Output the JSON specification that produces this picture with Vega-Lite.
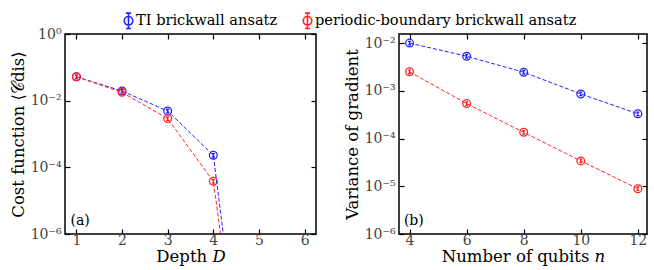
{
  "$schema": "https://vega.github.io/schema/vega-lite/v6.json",
  "background": "white",
  "padding": {"left": 9, "top": 11, "right": 5, "bottom": 0},
  "config": {
    "font": "DejaVu Serif",
    "view": {"stroke": "black", "strokeWidth": 1.5},
    "axis": {
      "domain": false, "grid": false, "ticks": true, "tickColor": "black", "tickSize": -5, "tickWidth": 1.2,
      "labelFont": "DejaVu Serif", "labelFontSize": 14, "labelColor": "#444", "labelPadding": 4,
      "titleFont": "DejaVu Serif", "titleFontSize": 16.5, "titleFontWeight": "normal", "titleColor": "black"
    },
    "axisY": {"labelPadding": 9},
    "legend": {
      "orient": "none", "legendX": 54, "legendY": -23, "direction": "horizontal", "title": null,
      "labelFont": "DejaVu Serif", "labelFontSize": 14.6, "labelColor": "black", "labelOffset": -2, "labelLimit": 500,
      "columnPadding": 20, "symbolSize": 290, "symbolStrokeWidth": 1.6, "symbolFillColor": "transparent"
    },
    "text": {"font": "DejaVu Serif"},
    "concat": {"spacing": 25}
  },
  "datasets": {
    "left": [
      {"D": 1, "v": 0.052, "series": "TI brickwall ansatz"},
      {"D": 2, "v": 0.0195, "series": "TI brickwall ansatz"},
      {"D": 3, "v": 0.0049, "series": "TI brickwall ansatz"},
      {"D": 4, "v": 0.00023, "series": "TI brickwall ansatz"},
      {"D": 5, "v": 3.7e-15, "series": "TI brickwall ansatz"},
      {"D": 6, "v": 3.7e-15, "series": "TI brickwall ansatz"},
      {"D": 1, "v": 0.052, "series": "periodic-boundary brickwall ansatz"},
      {"D": 2, "v": 0.0178, "series": "periodic-boundary brickwall ansatz"},
      {"D": 3, "v": 0.0029, "series": "periodic-boundary brickwall ansatz"},
      {"D": 4, "v": 0.000038, "series": "periodic-boundary brickwall ansatz"},
      {"D": 5, "v": 4.7e-15, "series": "periodic-boundary brickwall ansatz"},
      {"D": 6, "v": 4.7e-15, "series": "periodic-boundary brickwall ansatz"}
    ],
    "right": [
      {"n": 4, "v": 0.0100, "series": "TI brickwall ansatz"},
      {"n": 6, "v": 0.0053, "series": "TI brickwall ansatz"},
      {"n": 8, "v": 0.00245, "series": "TI brickwall ansatz"},
      {"n": 10, "v": 0.00086, "series": "TI brickwall ansatz"},
      {"n": 12, "v": 0.00033, "series": "TI brickwall ansatz"},
      {"n": 4, "v": 0.0025, "series": "periodic-boundary brickwall ansatz"},
      {"n": 6, "v": 0.00054, "series": "periodic-boundary brickwall ansatz"},
      {"n": 8, "v": 0.000135, "series": "periodic-boundary brickwall ansatz"},
      {"n": 10, "v": 0.000034, "series": "periodic-boundary brickwall ansatz"},
      {"n": 12, "v": 0.0000089, "series": "periodic-boundary brickwall ansatz"}
    ]
  },
  "hconcat": [
    {
      "width": 251, "height": 200,
      "data": {"name": "left"},
      "layer": [
        {
          "mark": {"type": "point", "filled": false, "size": 60, "strokeWidth": 1.3, "opacity": 1, "clip": true,
                   "shape": "M1,0A1,1,0,1,1,-1,0A1,1,0,1,1,1,0M-0.4,-0.45L0.4,-0.45M-0.4,0.45L0.4,0.45M0,-0.45L0,0.45"},
          "encoding": {
            "x": {"field": "D", "type": "quantitative", "scale": {"domain": [0.75, 6.25], "nice": false, "zero": false},
                  "axis": {"orient": "top", "labels": false, "title": null, "values": [1, 2, 3, 4, 5, 6]}},
            "y": {"field": "v", "type": "quantitative", "scale": {"type": "log", "domain": [1e-6, 1], "nice": false},
                  "axis": {"orient": "right", "labels": false, "title": null, "values": [1e-6, 1e-4, 1e-2, 1]}},
            "color": {"field": "series", "type": "nominal",
                      "scale": {"domain": ["TI brickwall ansatz", "periodic-boundary brickwall ansatz"], "range": ["#2323ff", "#ff2424"]},
                      "legend": {"symbolType": "M0,-0.9L0,0.9M-0.3,-0.9L0.3,-0.9M-0.3,0.9L0.3,0.9M0.5,0A0.5,0.5,0,1,1,-0.5,0A0.5,0.5,0,1,1,0.5,0Z",
                                 "symbolFillColor": "transparent", "symbolStrokeWidth": 1.6}}
          }
        },
        {
          "mark": {"type": "line", "strokeDash": [4, 2], "strokeWidth": 1, "clip": true},
          "encoding": {
            "x": {"field": "D", "type": "quantitative", "scale": {"domain": [0.75, 6.25], "nice": false, "zero": false},
                  "axis": {"title": "Depth 𝐷", "values": [1, 2, 3, 4, 5, 6], "titlePadding": 1}},
            "y": {"field": "v", "type": "quantitative", "scale": {"type": "log", "domain": [1e-6, 1], "nice": false},
                  "axis": {"title": "Cost function ⟨𝒞dis⟩", "values": [1e-6, 1e-4, 1e-2, 1], "titlePadding": 4,
                           "labelExpr": "'10' + (round(log(datum.value)/LN10) < 0 ? '⁻' : '') + substring('⁰¹²³⁴⁵⁶⁷⁸⁹', abs(round(log(datum.value)/LN10)), abs(round(log(datum.value)/LN10)) + 1)"}},
            "color": {"field": "series", "type": "nominal"}
          }
        },
        {
          "data": {"values": [{"px": 1.08, "py": 2.5e-6, "t": "(a)"}]},
          "mark": {"type": "text", "fontSize": 14, "color": "black"},
          "encoding": {
            "x": {"field": "px", "type": "quantitative", "scale": {"domain": [0.75, 6.25], "nice": false, "zero": false}, "axis": null},
            "y": {"field": "py", "type": "quantitative", "scale": {"type": "log", "domain": [1e-6, 1], "nice": false}, "axis": null},
            "text": {"field": "t"}
          }
        }
      ],
      "resolve": {"axis": {"x": "independent", "y": "independent"}}
    },
    {
      "width": 248, "height": 200,
      "data": {"name": "right"},
      "layer": [
        {
          "mark": {"type": "point", "filled": false, "size": 60, "strokeWidth": 1.3, "opacity": 1, "clip": true,
                   "shape": "M1,0A1,1,0,1,1,-1,0A1,1,0,1,1,1,0M-0.4,-0.45L0.4,-0.45M-0.4,0.45L0.4,0.45M0,-0.45L0,0.45"},
          "encoding": {
            "x": {"field": "n", "type": "quantitative", "scale": {"domain": [3.63, 12.32], "nice": false, "zero": false},
                  "axis": {"orient": "top", "labels": false, "title": null, "values": [4, 6, 8, 10, 12]}},
            "y": {"field": "v", "type": "quantitative", "scale": {"type": "log", "domain": [1e-6, 0.0155], "nice": false},
                  "axis": {"orient": "right", "labels": false, "title": null, "values": [1e-6, 1e-5, 1e-4, 1e-3, 1e-2]}},
            "color": {"field": "series", "type": "nominal"}
          }
        },
        {
          "mark": {"type": "line", "strokeDash": [4, 2], "strokeWidth": 1, "clip": true},
          "encoding": {
            "x": {"field": "n", "type": "quantitative", "scale": {"domain": [3.63, 12.32], "nice": false, "zero": false},
                  "axis": {"title": "Number of qubits 𝑛", "values": [4, 6, 8, 10, 12], "titlePadding": 1}},
            "y": {"field": "v", "type": "quantitative", "scale": {"type": "log", "domain": [1e-6, 0.0155], "nice": false},
                  "axis": {"title": "Variance of gradient", "values": [1e-6, 1e-5, 1e-4, 1e-3, 1e-2], "titlePadding": 4,
                           "labelExpr": "'10' + (round(log(datum.value)/LN10) < 0 ? '⁻' : '') + substring('⁰¹²³⁴⁵⁶⁷⁸⁹', abs(round(log(datum.value)/LN10)), abs(round(log(datum.value)/LN10)) + 1)"}},
            "color": {"field": "series", "type": "nominal"}
          }
        },
        {
          "data": {"values": [{"px": 4.15, "py": 1.9e-6, "t": "(b)"}]},
          "mark": {"type": "text", "fontSize": 14, "color": "black"},
          "encoding": {
            "x": {"field": "px", "type": "quantitative", "scale": {"domain": [3.63, 12.32], "nice": false, "zero": false}, "axis": null},
            "y": {"field": "py", "type": "quantitative", "scale": {"type": "log", "domain": [1e-6, 0.0155], "nice": false}, "axis": null},
            "text": {"field": "t"}
          }
        }
      ],
      "resolve": {"axis": {"x": "independent", "y": "independent"}}
    }
  ]
}
